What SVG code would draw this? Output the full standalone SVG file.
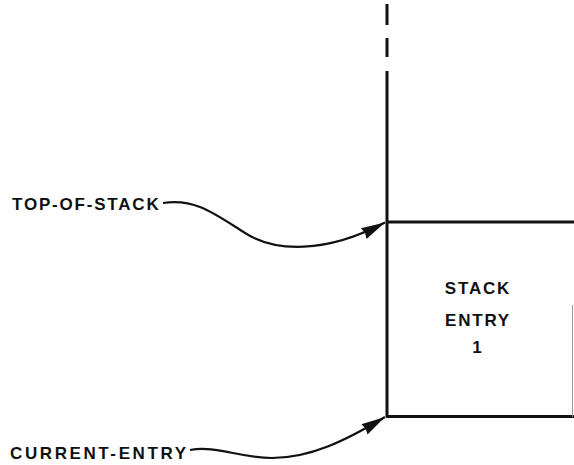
<svg xmlns="http://www.w3.org/2000/svg" width="574" height="465" viewBox="0 0 574 465">
<style>
.lbl{font-family:"Liberation Sans",Arial,sans-serif;font-size:17px;font-weight:bold;fill:#111;letter-spacing:1.8px}
.ln{stroke:#111;stroke-width:3;fill:none}
.conn{stroke:#111;stroke-width:2.2;fill:none}
</style>
<defs>
<marker id="arr" markerUnits="userSpaceOnUse" markerWidth="26" markerHeight="16" refX="24" refY="8" orient="auto">
<path d="M0,2 L24,8 L0,14 L1.5,8 Z" fill="#111"/>
</marker>
</defs>
<g id="stack-boundary">
<line class="ln" x1="387" y1="4" x2="387" y2="25"/>
<line class="ln" x1="387" y1="38" x2="387" y2="57"/>
<line class="ln" x1="387" y1="71" x2="387" y2="417"/>
</g>
<g id="stack-entry-1">
<line class="ln" x1="386" y1="222" x2="574" y2="222"/>
<line class="ln" x1="386" y1="416.5" x2="574" y2="416.5"/>
<line x1="572.5" y1="305" x2="572.5" y2="417" stroke="#999" stroke-width="1"/>
<text class="lbl" x="478" y="294" text-anchor="middle">STACK</text>
<text class="lbl" x="478" y="326" text-anchor="middle">ENTRY</text>
<text class="lbl" x="478" y="353" text-anchor="middle">1</text>
</g>
<g id="top-of-stack">
<text class="lbl" x="12" y="210">TOP-OF-STACK</text>
</g>
<g id="current-entry">
<text class="lbl" x="10" y="459" style="letter-spacing:2.6px">CURRENT-ENTRY</text>
</g>
<g id="connectors">
<path class="conn" d="M163,203 C195,198 215,214 245,233 C275,252 325,254 385,222.5" marker-end="url(#arr)"/>
<path class="conn" d="M190,450 C215,445 240,458 272,458 C310,458 345,441 385,417" marker-end="url(#arr)"/>
</g>
</svg>
